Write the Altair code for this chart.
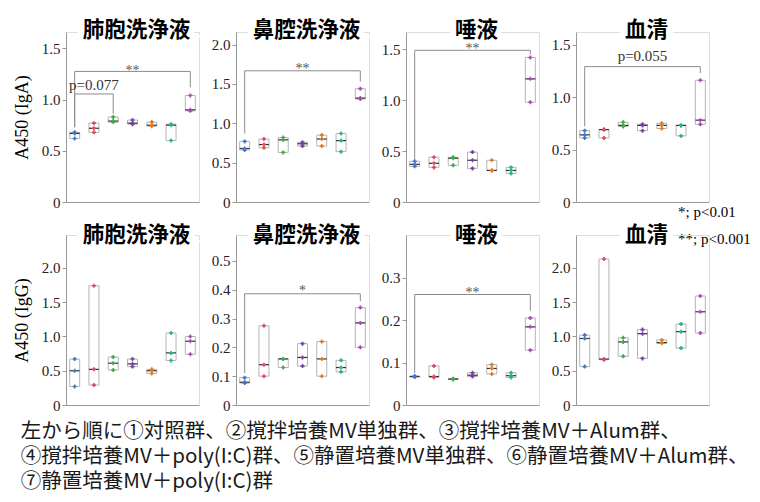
import altair as alt
import pandas as pd

# ---------------- data ----------------
groups = ["1", "2", "3", "4", "5", "6", "7"]
group_colors = ["#4472C4", "#E0475B", "#3BAA48", "#7440A0", "#E07B20", "#26B28F", "#A64AB0"]

panel_titles = ["肺胞洗浄液", "鼻腔洗浄液", "唾液", "血清"]
y_titles = ["A450 (IgA)", "A450 (IgG)"]

iga_bal = [[0.62, 0.67, 0.68], [0.68, 0.72, 0.77], [0.78, 0.79, 0.83], [0.76, 0.77, 0.80],
           [0.74, 0.75, 0.78], [0.60, 0.75, 0.76], [0.89, 0.90, 1.04]]
iga_nasal = [[0.66, 0.68, 0.77], [0.69, 0.73, 0.80], [0.63, 0.79, 0.82], [0.71, 0.74, 0.76],
             [0.71, 0.80, 0.85], [0.64, 0.78, 0.87], [1.31, 1.32, 1.44]]
iga_saliva = [[0.35, 0.37, 0.40], [0.34, 0.38, 0.44], [0.36, 0.43, 0.44], [0.33, 0.41, 0.49],
              [0.31, 0.31, 0.41], [0.28, 0.31, 0.34], [0.98, 1.21, 1.42]]
iga_serum = [[0.61, 0.64, 0.68], [0.61, 0.69, 0.69], [0.72, 0.73, 0.76], [0.68, 0.73, 0.74],
             [0.70, 0.73, 0.75], [0.63, 0.73, 0.73], [0.74, 0.78, 1.16]]
igg_bal = [[0.27, 0.50, 0.67], [0.29, 0.52, 1.74], [0.51, 0.61, 0.70], [0.56, 0.60, 0.67],
           [0.46, 0.50, 0.52], [0.65, 0.76, 1.05], [0.74, 0.93, 1.00]]
igg_nasal = [[0.076, 0.079, 0.095], [0.10, 0.14, 0.275], [0.13, 0.16, 0.16], [0.135, 0.165, 0.213],
             [0.10, 0.16, 0.22], [0.115, 0.13, 0.155], [0.20, 0.285, 0.338]]
igg_saliva = [[0.066, 0.067, 0.068], [0.065, 0.067, 0.092], [0.060, 0.061, 0.062], [0.067, 0.070, 0.076],
              [0.073, 0.086, 0.095], [0.065, 0.069, 0.076], [0.129, 0.184, 0.205]]
igg_serum = [[0.56, 0.97, 1.02], [0.66, 0.67, 2.13], [0.71, 0.92, 0.98], [0.68, 1.04, 1.10],
             [0.90, 0.91, 0.95], [0.83, 1.07, 1.18], [1.05, 1.36, 1.59]]

top_values = [iga_bal, iga_nasal, iga_saliva, iga_serum]
bottom_values = [igg_bal, igg_nasal, igg_saliva, igg_serum]

top_ymax = [1.66, 2.16, 1.67, 1.62]
bottom_ymax = [2.48, 0.59, 0.40, 2.48]
top_ticks = [[0, 0.5, 1.0, 1.5], [0, 0.5, 1.0, 1.5, 2.0], [0, 0.5, 1.0, 1.5], [0, 0.5, 1.0, 1.5]]
bottom_ticks = [[0, 0.5, 1.0, 1.5, 2.0], [0, 0.1, 0.2, 0.3, 0.4, 0.5], [0, 0.1, 0.2, 0.3], [0, 0.5, 1.0, 1.5, 2.0]]

# brackets: (from, to, level, left leg bottom, right leg bottom, label, label baseline value)
top_brackets = [
    [("1", "7", 1.275, 0.73, 1.12, "**", 1.242), ("1", "3", 1.055, 0.73, 0.86, "p=0.077", 1.098)],
    [("1", "7", 1.667, 0.87, 1.53, "**", 1.64)],
    [("1", "7", 1.49, 0.42, 1.45, "**", 1.46)],
    [("1", "7", 1.29, 0.72, 1.23, "p=0.055", 1.346)],
]
bottom_brackets = [
    [],
    [("1", "7", 0.386, 0.11, 0.36, "*", 0.382)],
    [("1", "7", 0.26, 0.075, 0.222, "**", 0.255)],
    [],
]

sig_legend = "*; p<0.01\n**; p<0.001"
footer_lines = [
    "左から順に①対照群、②撹拌培養MV単独群、③撹拌培養MV＋Alum群、",
    "④撹拌培養MV＋poly(I:C)群、⑤静置培養MV単独群、⑥静置培養MV＋Alum群、",
    "⑦静置培養MV＋poly(I:C)群",
]

# ---------------- layout ----------------
W, H = 133, 170
SERIF = "Liberation Serif"
CJK = "Noto Sans CJK JP"
label_expr = "datum.value == 0 ? '0' : format(datum.value, '.1f')"


def panel(values, title, ticks, ymax, brackets, ytitle, title_dy, extra=None):
    df = pd.DataFrame([{"g": groups[i], "v": v} for i, vals in enumerate(values) for v in vals])
    xenc = alt.X("g:N", scale=alt.Scale(type="point", domain=groups, padding=0.45),
                 axis=alt.Axis(labels=False, ticks=False, title=None, grid=False,
                               domainColor="#999999"))
    yscale = alt.Scale(domain=[0, ymax], nice=False, zero=True)
    axis_kw = dict(values=ticks, labelExpr=label_expr, grid=False, domainColor="#999999",
                   tickColor="#999999", tickSize=4, labelFont=SERIF, labelFontSize=15,
                   labelColor="#222222", labelPadding=2)
    if ytitle:
        yaxis = alt.Axis(title=ytitle, titleFont=SERIF, titleFontSize=18, titleFontWeight="normal",
                         titleColor="black", titlePadding=10, **axis_kw)
    else:
        yaxis = alt.Axis(title=None, **axis_kw)

    tdf = pd.DataFrame({"t": [title]})
    blob = alt.Chart(tdf).mark_text(font=CJK, fontWeight="bold", fontSize=21.5, fill="white",
                                    stroke="white", strokeWidth=12, align="center",
                                    baseline="middle").encode(
        text="t:N", x=alt.value(W / 2 + 4), y=alt.value(title_dy))
    ttl = alt.Chart(tdf).mark_text(font=CJK, fontWeight="bold", fontSize=21.5, color="black",
                                   align="center", baseline="middle").encode(
        text="t:N", x=alt.value(W / 2 + 4), y=alt.value(title_dy))

    base = alt.Chart(df)
    box = base.mark_bar(fill="white", stroke="#b5b5b5", strokeWidth=1, size=10).encode(
        x=xenc, y=alt.Y("min(v):Q", scale=yscale, axis=yaxis), y2="max(v)")
    med = base.mark_tick(color="#333333", thickness=1.2, size=10).encode(
        x=xenc, y=alt.Y("median(v):Q", scale=yscale, axis=yaxis))
    pts = base.mark_point(shape="cross", filled=True, size=16, opacity=1).encode(
        x=xenc, y=alt.Y("v:Q", scale=yscale, axis=yaxis),
        color=alt.Color("g:N", scale=alt.Scale(domain=groups, range=group_colors), legend=None))

    layers = [blob, box, med, pts]

    if brackets:
        lrows, trows = [], []
        for bi, (a, b, lev, lb, rb, lab, ly) in enumerate(brackets):
            lrows += [{"b": bi, "o": 0, "g": a, "v": lb}, {"b": bi, "o": 1, "g": a, "v": lev},
                      {"b": bi, "o": 2, "g": b, "v": lev}, {"b": bi, "o": 3, "g": b, "v": rb}]
            mid = groups[(groups.index(a) + groups.index(b)) // 2]
            trows.append({"g": mid, "v": ly, "lab": lab, "star": lab.startswith("*")})
        ldf = pd.DataFrame(lrows)
        tdf2 = pd.DataFrame(trows)
        line = alt.Chart(ldf).mark_line(color="#8c8c8c", strokeWidth=1).encode(
            x=xenc, y=alt.Y("v:Q", scale=yscale, axis=yaxis), detail="b:N", order="o:Q")
        layers.append(line)
        stars = tdf2[tdf2["star"]]
        pvals = tdf2[~tdf2["star"]]
        if len(stars):
            layers.append(alt.Chart(stars).mark_text(font=SERIF, fontSize=14, color="#555555",
                                                     baseline="alphabetic").encode(
                x=xenc, y=alt.Y("v:Q", scale=yscale, axis=yaxis), text="lab:N"))
        if len(pvals):
            layers.append(alt.Chart(pvals).mark_text(font=SERIF, fontSize=15, color="#333333",
                                                     baseline="alphabetic").encode(
                x=xenc, y=alt.Y("v:Q", scale=yscale, axis=yaxis), text="lab:N"))
    if extra is not None:
        layers.append(extra)
    layers.append(ttl)
    return alt.layer(*layers).properties(width=W, height=H)


legend_text = alt.Chart(pd.DataFrame({"t": [sig_legend]})).mark_text(
    font=SERIF, fontSize=15, color="black", align="left", baseline="top",
    lineBreak="\n", lineHeight=27).encode(text="t:N", x=alt.value(102), y=alt.value(173))

panels = [
    panel(top_values[i], panel_titles[i], top_ticks[i], top_ymax[i], top_brackets[i],
          y_titles[0] if i == 0 else None, -1.5, legend_text if i == 3 else None)
    for i in range(4)
] + [
    panel(bottom_values[i], panel_titles[i], bottom_ticks[i], bottom_ymax[i], bottom_brackets[i],
          y_titles[1] if i == 0 else None, 1.2)
    for i in range(4)
]

chart = alt.concat(
    *panels, columns=4, spacing={"row": 33, "column": 37}, bounds="flush",
    title=alt.TitleParams(text=footer_lines, orient="bottom", anchor="start", font=CJK,
                          fontSize=20.5, fontWeight="normal", color="#1a1a1a", lineHeight=25,
                          offset=8, dx=8),
).properties(
    padding={"left": 4, "top": 11, "right": 0, "bottom": 0}
).configure_axis(
    labelFont=SERIF, labelFontSize=15, titleFont=SERIF, titleFontSize=18, titleFontWeight="normal"
).configure_view(stroke="#d4d4d4").configure(background="white")

chart.save("out.html", embed_options={"renderer": "svg", "actions": False})
